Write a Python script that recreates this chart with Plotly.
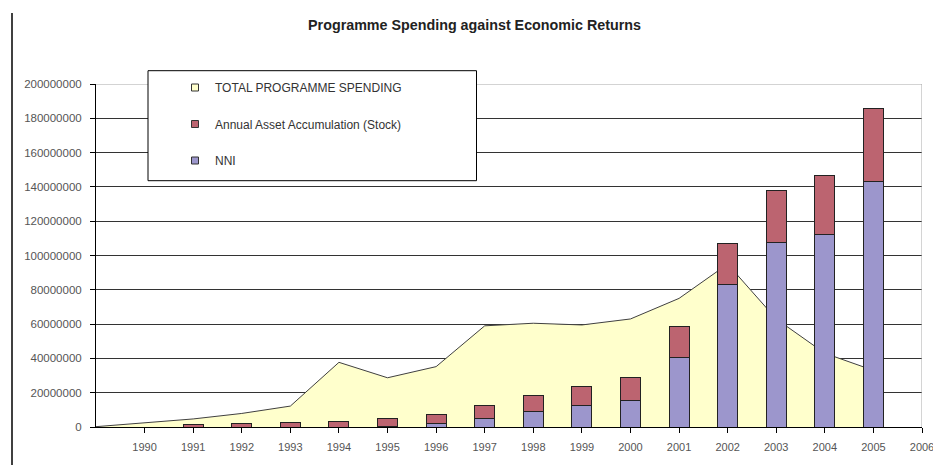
import plotly.graph_objects as go

# ---- data (values in units) ----
area_years = [1989, 1990, 1991, 1992, 1993, 1994, 1995, 1996, 1997, 1998,
              1999, 2000, 2001, 2002, 2003, 2004, 2005]
total_spending = [0.2e6, 2.6e6, 4.7e6, 7.9e6, 12.2e6, 37.7e6, 28.7e6, 35.2e6, 59.0e6,
                  60.5e6, 59.5e6, 63.0e6, 75.0e6, 95.0e6, 63.0e6, 43.0e6, 33.0e6]

bar_years = [1991, 1992, 1993, 1994, 1995, 1996, 1997, 1998, 1999, 2000,
             2001, 2002, 2003, 2004, 2005]
nni = [None, None, None, None, 0.5e6, 2.2e6, 5.0e6, 9.2e6, 12.8e6, 15.7e6,
       40.4e6, 83.0e6, 107.3e6, 112.3e6, 143.4e6]
asset_accum = [1.7e6, 2.3e6, 2.9e6, 3.5e6, 4.7e6, 5.3e6, 7.3e6, 9.0e6, 10.7e6, 13.0e6,
               18.3e6, 24.1e6, 30.7e6, 34.5e6, 42.4e6]

x_ticks = list(range(1990, 2007))
y_ticks = list(range(0, 200000001, 20000000))

series_names = ["TOTAL PROGRAMME SPENDING", "Annual Asset Accumulation (Stock)", "NNI"]
series_colors = ["#FFFFCC", "#BC6470", "#9C96CC"]

FONT = "Liberation Sans, Arial, sans-serif"
X_RANGE = [1989, 2006]
Y_RANGE = [0, 200000000]

fig = go.Figure()

# area (base axes, drawn underneath)
fig.add_trace(go.Scatter(
    x=area_years, y=total_spending, name=series_names[0],
    mode="lines", fill="tozeroy", fillcolor=series_colors[0],
    line=dict(color="#404040", width=1), showlegend=False,
    xaxis="x", yaxis="y"))

# stacked bars on an overlaid axis pair, so they are drawn on top of the area
fig.add_trace(go.Bar(
    x=bar_years, y=nni, name=series_names[2], width=0.41,
    marker=dict(color=series_colors[2], line=dict(color="#222222", width=1)),
    showlegend=False, xaxis="x2", yaxis="y2"))
fig.add_trace(go.Bar(
    x=bar_years, y=asset_accum, name=series_names[1], width=0.41,
    marker=dict(color=series_colors[1], line=dict(color="#222222", width=1)),
    showlegend=False, xaxis="x2", yaxis="y2"))

# legend entries (small squares like the original)
for i, (nm, col) in enumerate(zip(series_names, series_colors)):
    fig.add_trace(go.Scatter(
        x=[None], y=[None], mode="markers", name=nm,
        marker=dict(symbol="square", size=7, color=col,
                    line=dict(color="#333333", width=1)),
        legendgroup=f"g{i}", legendrank=i + 1, showlegend=True,
        xaxis="x", yaxis="y"))

fig.update_layout(
    width=933, height=465,
    margin=dict(l=96, r=11, t=84, b=38, autoexpand=False),
    paper_bgcolor="white", plot_bgcolor="white",
    barmode="stack",
    font=dict(family=FONT, color="#444444"),
    title=dict(text="Programme Spending against Economic Returns",
               x=474.5 / 933, xanchor="center", y=1 - 25 / 465, yanchor="middle",
               font=dict(family=FONT, size=14.3, color="#222222", weight="bold")),
    showlegend=True,
    legend=dict(x=(175 - 96) / 826, xanchor="left", y=(427 - 73) / 343, yanchor="top",
                bgcolor="rgba(0,0,0,0)", borderwidth=0,
                font=dict(family=FONT, size=12, color="#333333"),
                tracegroupgap=17.5, traceorder="grouped"),
    xaxis=dict(range=X_RANGE, tickvals=x_ticks, ticktext=[str(v) for v in x_ticks],
               showgrid=False, zeroline=False, showline=True, linecolor="#000000", linewidth=1,
               ticks="outside", ticklen=5, tickcolor="#000000", ticklabeloverflow="allow",
               automargin=False, ticklabelstandoff=5,
               tickfont=dict(family=FONT, size=11, color="#555555")),
    yaxis=dict(range=Y_RANGE, tickvals=y_ticks, tickformat="d",
               showgrid=True, gridcolor="#333333", gridwidth=1, zeroline=False,
               showline=True, linecolor="#000000", linewidth=1, automargin=False,
               ticks="outside", ticklen=5, tickcolor="#000000", ticklabelstandoff=6,
               tickfont=dict(family=FONT, size=11.5, color="#555555")),
    xaxis2=dict(range=X_RANGE, overlaying="x", visible=False, automargin=False),
    yaxis2=dict(range=Y_RANGE, overlaying="y", visible=False, automargin=False),
    shapes=[
        # plot-area border (top and right), grey
        dict(type="line", xref="x", yref="y", x0=1989, x1=2006, y0=200000000, y1=200000000,
             line=dict(color="#A8A8A8", width=1), layer="above"),
        dict(type="line", xref="x", yref="y", x0=2006, x1=2006, y0=0, y1=200000000,
             line=dict(color="#A8A8A8", width=1), layer="above"),
        # legend box
        dict(type="rect", xref="paper", yref="paper",
             x0=(148 - 96) / 826, x1=(476.5 - 96) / 826,
             y0=(427 - 180.7) / 343, y1=(427 - 70.7) / 343,
             fillcolor="white", line=dict(color="#000000", width=1), layer="above"),
        # outer chart frame (left edge)
        dict(type="line", xref="paper", yref="paper",
             x0=(12 - 96) / 826, x1=(12 - 96) / 826,
             y0=(427 - 465) / 343, y1=(427 - 13) / 343,
             line=dict(color="#000000", width=1.5)),
    ],
)

fig.write_html("out.html")
